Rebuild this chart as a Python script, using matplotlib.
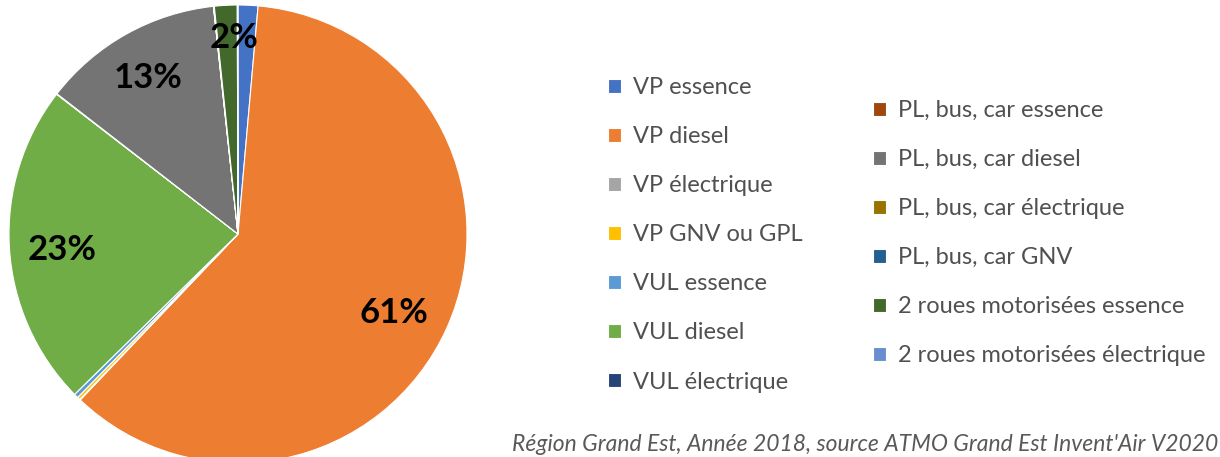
import matplotlib
matplotlib.use('Agg')
import matplotlib.pyplot as plt

##Categories and shares (%) of the pie
categories = ['VP essence', 'VP diesel', 'VP électrique', 'VP GNV ou GPL',
              'VUL essence', 'VUL diesel', 'VUL électrique',
              'PL, bus, car essence', 'PL, bus, car diesel', 'PL, bus, car électrique',
              'PL, bus, car GNV', '2 roues motorisées essence', '2 roues motorisées électrique']
shares = [1.4, 60.7, 0.05, 0.2, 0.3, 22.8, 0.02, 0.02, 12.8, 0.01, 0.05, 1.6, 0.05]
colors = ['#4472C4', '#ED7D31', '#A5A5A5', '#FFC000', '#5B9BD5', '#70AD47', '#264478',
          '#9E480E', '#747474', '#997300', '#255E91', '#43682B', '#698ED0']
source = "Région Grand Est, Année 2018, source ATMO Grand Est Invent'Air V2020"

plt.rcParams['font.family'] = ['Lato', 'DejaVu Sans']

W, H = 1220, 457
fig = plt.figure(figsize=(W / 100, H / 100), dpi=100)
ax = fig.add_axes([0, 0, 1, 1])

cx, cy, r = 238, H - 234, 229
wedges, _ = ax.pie(shares, colors=colors, startangle=90, counterclock=False,
                   center=(cx, cy), radius=r,
                   wedgeprops=dict(edgecolor='white', linewidth=0.8))
ax.set_xlim(0, W)
ax.set_ylim(0, H)
ax.set_aspect('equal')
ax.axis('off')

##Percent labels, only for slices that show one
label_pos = {1: (394, 313), 5: (62, 250), 8: (148, 78), 11: (234, 38)}
for i, (px, py) in label_pos.items():
    ax.text(px, H - py, '%d%%' % round(shares[i]), ha='center', va='center',
            fontsize=25, fontweight='bold', color='black')

##Two legend columns
leg_kw = dict(frameon=False, fontsize=17, labelcolor='#505050', handlelength=0.55,
              handleheight=0.55, handletextpad=0.5, labelspacing=1.19, borderpad=0,
              borderaxespad=0, loc='upper left')
leg1 = fig.legend(wedges[:7], categories[:7], bbox_to_anchor=(608 / W, 1 - 77 / H), **leg_kw)
leg2 = fig.legend(wedges[7:], categories[7:], bbox_to_anchor=(873 / W, 1 - 100 / H), **leg_kw)

fig.text(1218 / W, 1 - 451 / H, source, ha='right', va='baseline', fontsize=16.5,
         style='italic', color='#595959')

fig.savefig('out.png', dpi=100)
